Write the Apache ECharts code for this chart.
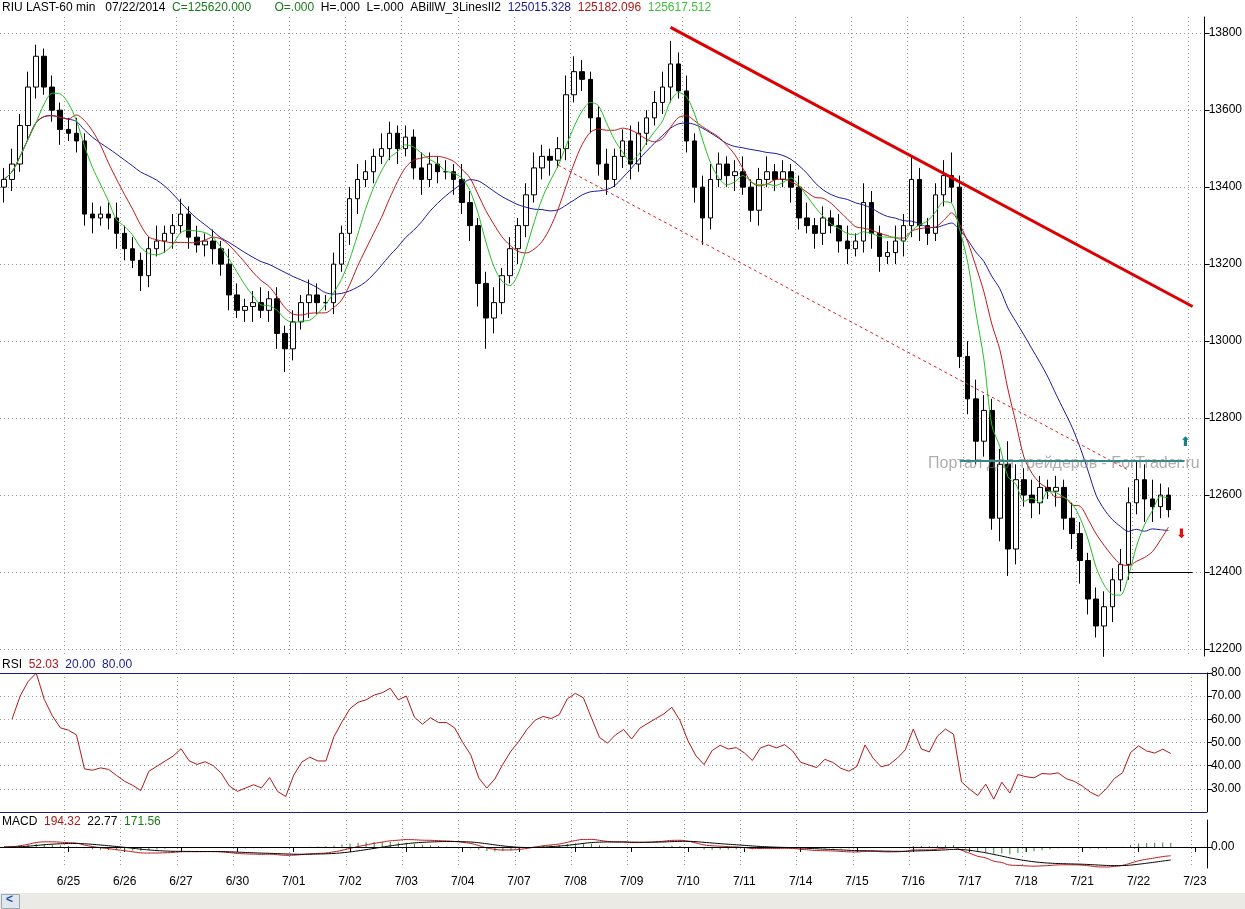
<!DOCTYPE html>
<html><head><meta charset="utf-8">
<script src="https://cdn.jsdelivr.net/npm/echarts@6/dist/echarts.min.js"></script>
<style>html,body{margin:0;padding:0;background:#fff}#c{width:1245px;height:909px}</style>
</head><body><div id="c"></div>
<script>
const closes=[13420,13460,13560,13660,13740,13660,13600,13550,13540,13520,13330,13320,13330,13320,13280,13240,13210,13170,13240,13260,13280,13300,13330,13270,13250,13260,13240,13200,13120,13080,13090,13100,13080,13110,13020,12980,13050,13100,13120,13100,13100,13200,13280,13370,13420,13440,13480,13500,13540,13500,13530,13450,13420,13460,13440,13440,13420,13360,13300,13150,13060,13100,13170,13240,13300,13380,13450,13480,13470,13500,13640,13700,13680,13580,13460,13420,13480,13520,13460,13540,13580,13620,13660,13720,13650,13520,13400,13320,13420,13460,13430,13440,13400,13340,13420,13440,13420,13440,13400,13320,13300,13280,13320,13300,13260,13240,13260,13360,13280,13220,13230,13260,13300,13420,13300,13280,13380,13430,13400,12960,12850,12740,12820,12540,12680,12460,12640,12600,12580,12620,12610,12620,12540,12500,12430,12330,12260,12310,12380,12420,12580,12640,12590,12570,12600,12562];
const highWick=[30,40,30,40,30,20,30,20,30,40,20,30,20,30,40,20,30,20,30,40,20,30,40,20,30,20,30,20,40,30,20,30,40,20,30,20,30,20,40,30,20,30,20,30,40,30,20,40,30,20,30,20,40,30,20,30,20,40,30,20,30,40,20,30,20,30,40,30,20,30,50,40,30,20,30,40,20,30,40,30,20,30,40,60,30,40,20,30,40,30,20,30,40,20,30,40,20,30,20,30,40,20,30,20,30,40,20,50,30,20,30,40,30,60,30,20,30,40,60,30,40,50,40,30,40,60,40,30,40,30,20,30,20,40,30,20,30,40,30,40,40,50,40,50,30,20];
const lowWick=[40,30,20,40,30,20,30,40,20,30,30,40,20,30,40,30,20,40,30,20,30,40,20,30,20,30,40,30,40,20,30,40,20,30,40,60,30,20,40,30,20,30,20,30,40,20,30,20,30,40,20,30,40,20,30,20,40,30,40,60,80,40,30,20,40,30,20,30,40,20,30,20,30,40,30,40,20,30,40,20,30,20,30,40,20,30,40,70,30,20,30,40,20,30,40,20,30,20,40,30,20,40,30,20,30,40,20,30,40,40,20,30,40,30,40,30,20,30,40,30,40,60,40,30,60,70,40,30,40,30,20,40,30,40,60,40,30,80,40,30,40,30,60,40,30,20];
const dayLabels=['6/25','6/26','6/27','6/30','7/01','7/02','7/03','7/04','7/07','7/08','7/09','7/10','7/11','7/14','7/15','7/16','7/17','7/18','7/21','7/22','7/23'];
const dayIndex=[8,15,22,29,36,43,50,57,64,71,78,85,92,99,106,113,120,127,134,141,148];
const priceTicks=[12200,12400,12600,12800,13000,13200,13400,13600,13800];
const rsiLevels=[20,80];
const N=150;
const cats=[];for(let i=0;i<N;i++){const k=dayIndex.indexOf(i);cats.push(k>=0?dayLabels[k]:''+i);}
const ohlc=closes.map((c,i)=>{const o=i?closes[i-1]:13400;return [o,c,Math.min(o,c)-lowWick[i],Math.max(o,c)+highWick[i]];});
function sma(p){return closes.map((_,i)=>{const a=Math.max(0,i-p+1);let s=0;for(let j=a;j<=i;j++)s+=closes[j];return +(s/(i-a+1)).toFixed(1);});}
function ema(arr,p){const k=2/(p+1);let e=arr[0];return arr.map(v=>(e=v*k+e*(1-k)));}
const maG=sma(5),maR=sma(9),maB=sma(18);
const rsi=[];let ag=12,al=10;const P=14;
for(let i=0;i<closes.length;i++){
 if(i===0){rsi.push(null);continue;}
 const d=closes[i]-closes[i-1],g=Math.max(d,0),l=Math.max(-d,0);
 ag=(ag*(P-1)+g)/P;al=(al*(P-1)+l)/P;
 rsi.push(+(100-100/(1+ag/(al||1e-9))).toFixed(2));
}
const e12=ema(closes,12),e26=ema(closes,26);
const macd=e12.map((v,i)=>+(v-e26[i]).toFixed(2));
const sig=ema(macd,9).map(v=>+v.toFixed(2));
const hist=macd.map((v,i)=>+(v-sig[i]).toFixed(2));
const lo=Math.max(...macd.map(Math.abs))*1.05;
const font='Liberation Sans, Arial';
const dotted={show:true,lineStyle:{color:'#999',type:[1,3],width:1}};
const chart=echarts.init(document.getElementById('c'));
const xBase=(g,show)=>({type:'category',gridIndex:g,data:cats,boundaryGap:true,
 axisLine:{show:show,lineStyle:{color:'#000'}},axisTick:{show:show,alignWithLabel:true,interval:(i)=>dayIndex.includes(i),length:5,lineStyle:{color:'#000'}},
 axisLabel:{show:show,interval:(i)=>dayIndex.includes(i),color:'#000',fontFamily:font,fontSize:12,margin:8},
 splitLine:{show:true,interval:(i)=>dayIndex.includes(i),lineStyle:{color:'#999',type:[1,3]}}});
chart.setOption({
 animation:false,
 grid:[{left:0,right:38,top:17,height:639},{left:0,right:38,top:673,height:139},{left:0,right:38,top:820,height:48}],
 xAxis:[xBase(0,false),xBase(1,false),xBase(2,true)],
 yAxis:[
  {type:'value',gridIndex:0,position:'right',min:12182,max:13842,
   axisLine:{show:true,lineStyle:{color:'#000'}},
   axisTick:{show:true,customValues:priceTicks,length:5},
   axisLabel:{customValues:priceTicks,color:'#000',fontFamily:font,fontSize:12,margin:4,formatter:v=>String(v)},
   splitLine:dotted},
  {type:'value',gridIndex:1,position:'right',min:20,max:80,interval:10,
   axisLine:{show:true,lineStyle:{color:'#000'}},axisTick:{show:true},
   axisLabel:{color:'#000',fontFamily:font,fontSize:12,margin:4,showMinLabel:false,formatter:v=>v.toFixed(2)},
   splitLine:dotted},
  {type:'value',gridIndex:2,position:'right',min:-lo,max:lo*27/21,
   axisLine:{show:true,lineStyle:{color:'#000'}},axisTick:{show:true,customValues:[0]},
   axisLabel:{customValues:[0],color:'#000',fontFamily:font,fontSize:12,margin:4,formatter:v=>'0.00'},
   splitLine:{show:false}}
 ],
 series:[
  {type:'candlestick',xAxisIndex:0,yAxisIndex:0,data:ohlc,barWidth:5,
   itemStyle:{color:'#fff',color0:'#000',borderColor:'#000',borderColor0:'#000',borderWidth:1},
   markLine:{silent:true,symbol:'none',label:{show:false},data:[
    [{coord:[83.4,13815],lineStyle:{color:'#d00',width:3,type:'solid'}},{coord:[147.5,13090]}],
    [{coord:[69.4,13457],lineStyle:{color:'#d22',width:1,type:[3,3]}},{coord:[140,12665]}],
    [{coord:[78,12865],lineStyle:{color:'#d22',width:1,type:'solid'}},{coord:[138,12180]}],
    [{coord:[118.5,12690],lineStyle:{color:'#2a8a8a',width:2,type:'solid'}},{coord:[147,12690]}],
    [{coord:[140,12400],lineStyle:{color:'#000',width:1,type:'solid'}},{coord:[147.5,12400]}]
   ]}},
  {type:'line',xAxisIndex:0,yAxisIndex:0,data:maB,showSymbol:false,smooth:0.3,lineStyle:{color:'#1a1aa0',width:1}},
  {type:'line',xAxisIndex:0,yAxisIndex:0,data:maR,showSymbol:false,smooth:0.3,lineStyle:{color:'#c01818',width:1}},
  {type:'line',xAxisIndex:0,yAxisIndex:0,data:maG,showSymbol:false,smooth:0.3,lineStyle:{color:'#20c020',width:1}},
  {type:'line',xAxisIndex:1,yAxisIndex:1,data:rsi,showSymbol:false,lineStyle:{color:'#b01818',width:1},
   markLine:{silent:true,symbol:'none',label:{show:false},lineStyle:{color:'#1a1a80',type:'solid',width:1},data:rsiLevels.map(v=>({yAxis:v}))}},
  {type:'bar',xAxisIndex:2,yAxisIndex:2,data:hist,barWidth:1,itemStyle:{color:'#2a8a2a'}},
  {type:'line',xAxisIndex:2,yAxisIndex:2,data:macd,showSymbol:false,smooth:true,lineStyle:{color:'#c01818',width:1},
   markLine:{silent:true,symbol:'none',label:{show:false},lineStyle:{color:'#000',type:'solid',width:1},data:[{yAxis:0}]}},
  {type:'line',xAxisIndex:2,yAxisIndex:2,data:sig,showSymbol:false,smooth:true,lineStyle:{color:'#000',width:1}}
 ],
 graphic:[
  {type:'text',left:2,top:2,style:{rich:{k:{fill:'#000'},g:{fill:'#1a7a1a'},b:{fill:'#1a1a90'},r:{fill:'#b01818'},l:{fill:'#40c040'}},
   text:'{k|RIU LAST-60 min   07/22/2014}  {g|C=125620.000}       {g|O=.000}  {k|H=.000  L=.000  ABillW_3LinesII2}  {b|125015.328}  {r|125182.096}  {l|125617.512}',font:'12px Liberation Sans'}},
  {type:'text',left:2,top:659,style:{rich:{k:{fill:'#000'},r:{fill:'#b01818'},b:{fill:'#1a1a90'}},text:'{k|RSI}  {r|52.03}  {b|20.00}  {b|80.00}',font:'12px Liberation Sans'}},
  {type:'text',left:2,top:816,style:{rich:{k:{fill:'#000'},r:{fill:'#b01818'},g:{fill:'#1a7a1a'}},text:'{k|MACD}  {r|194.32}  {k|22.77}  {g|171.56}',font:'12px Liberation Sans'}},
  {type:'text',left:928,top:456,z:100,style:{text:'Портал для трейдеров - ForTrader.ru',fill:'rgba(120,120,120,0.6)',font:'16px Liberation Sans'}},
  {type:'text',left:1180,top:436,style:{text:'⬆',fill:'#1a8080',font:'bold 13px DejaVu Sans'}},
  {type:'text',left:1176,top:528,style:{text:'⬇',fill:'#e01010',font:'bold 13px DejaVu Sans'}},
  {type:'rect',left:0,top:893,shape:{width:1245,height:16},style:{fill:'#eceae4'}},
  {type:'rect',left:1,top:894,shape:{width:18,height:14},style:{fill:'#dfe6f0',stroke:'#9aa'}},
  {type:'text',left:6,top:894,style:{text:'<',fill:'#2050a0',font:'bold 12px Liberation Sans'}}
 ]
});
</script></body></html>
